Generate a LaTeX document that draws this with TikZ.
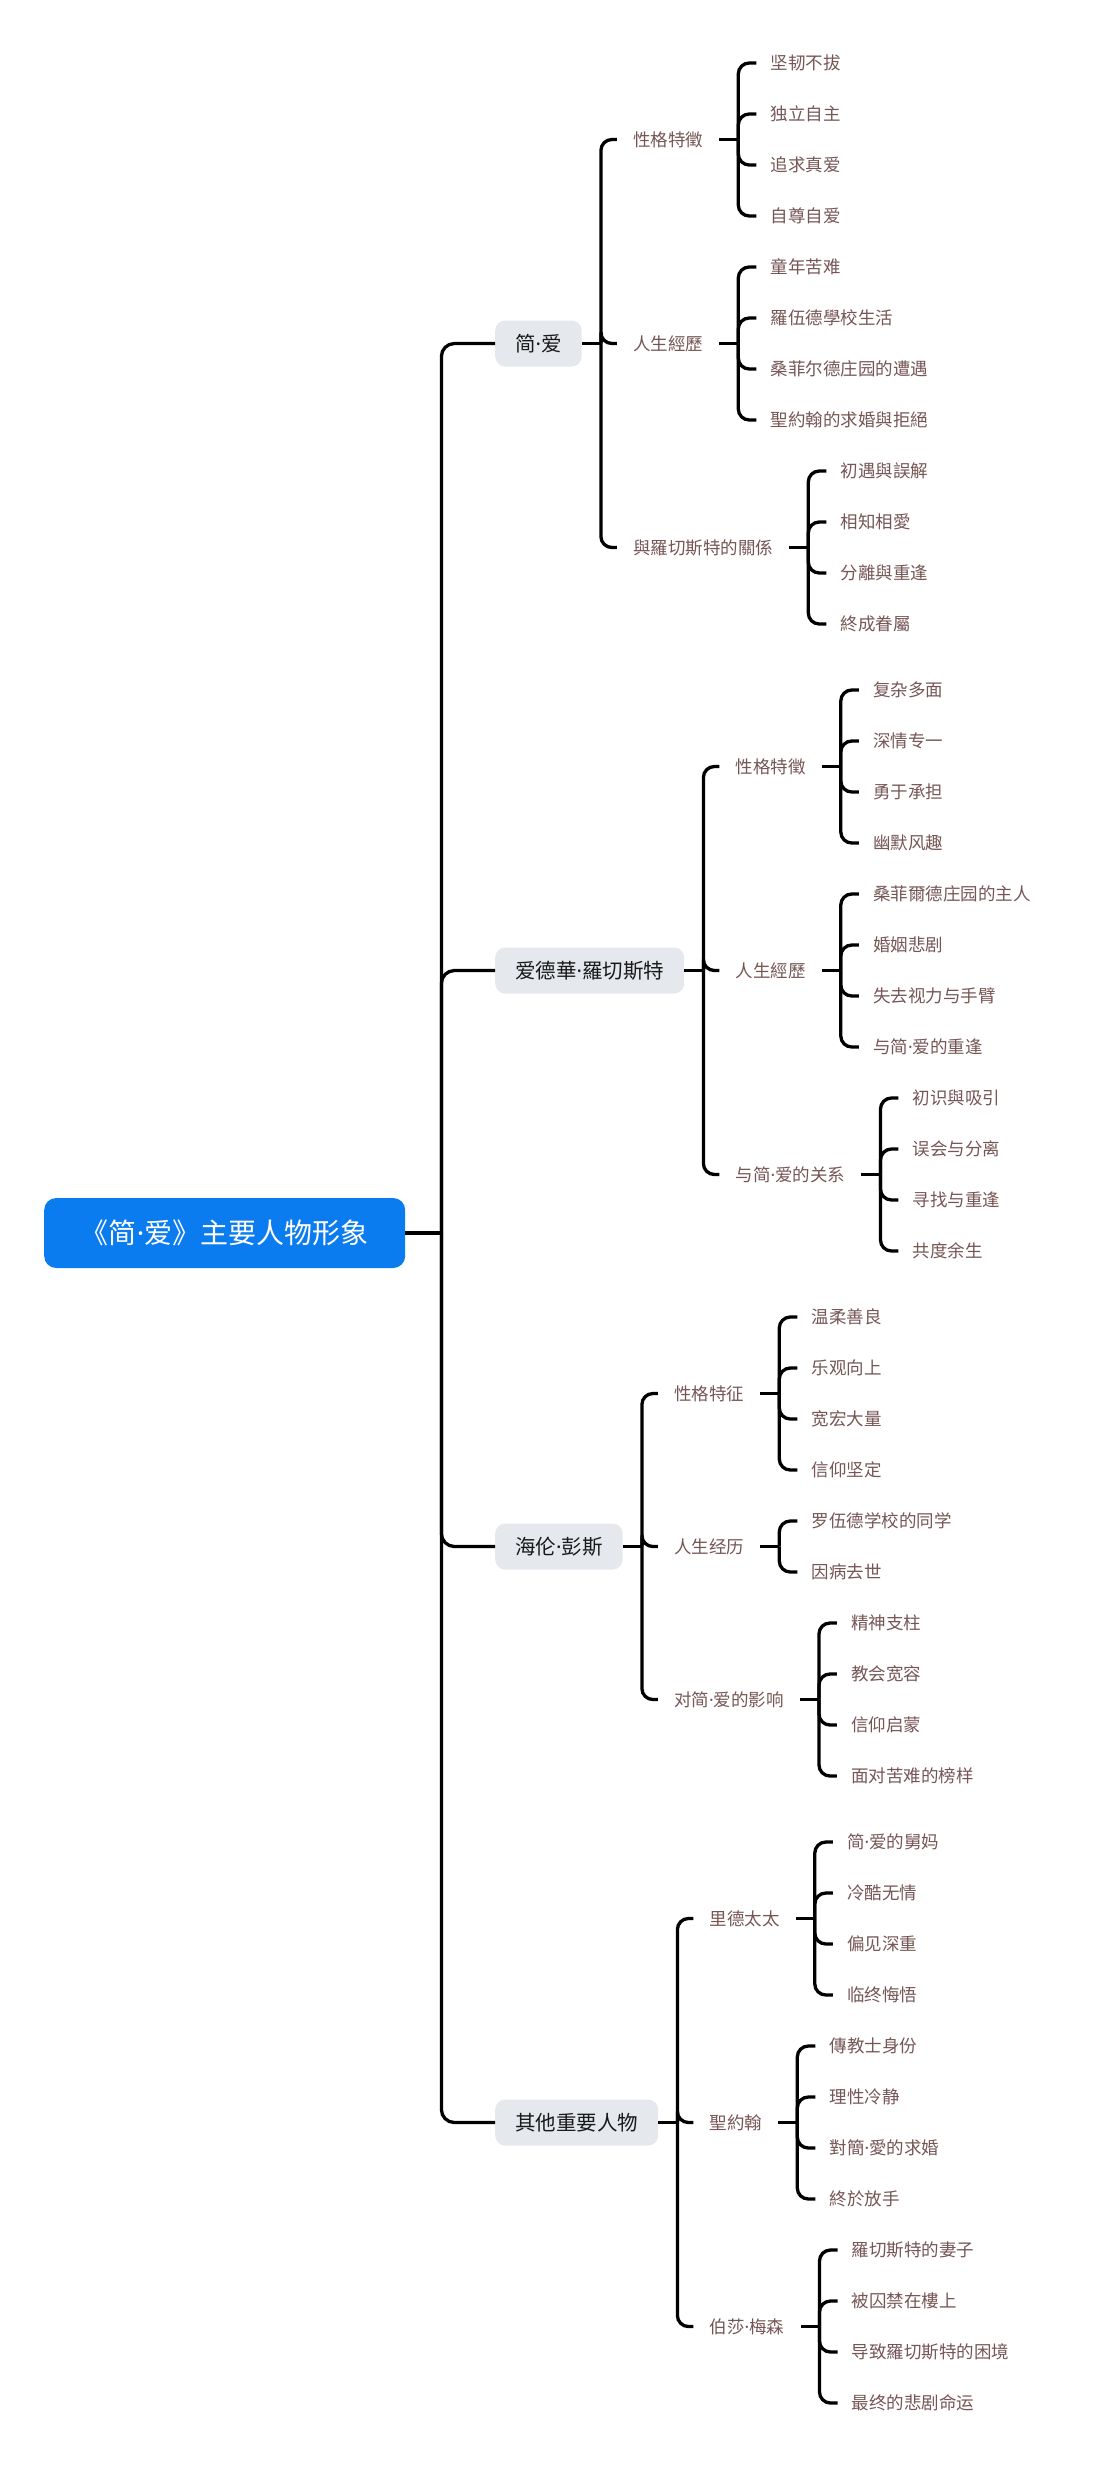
\documentclass[tikz,border=0pt]{standalone}
\usepackage{fontspec}
\usetikzlibrary{calc}
\setmainfont{Noto Sans CJK SC}
\newfontfamily\dotfont{Noto Sans}
\newcommand{\jdot}{{\dotfont ·}}
\definecolor{rootblue}{RGB}{11,124,240}
\definecolor{topicgray}{RGB}{229,233,238}
\definecolor{leafbrown}{RGB}{117,86,84}

\begin{document}
\begin{tikzpicture}[x=1pt, y=-1pt,
    rootbox/.style={fill=rootblue, text=white, rounded corners=12pt, anchor=west, minimum height=70pt, minimum width=361pt, font=\fontsize{28}{32}\selectfont},
    topicbox/.style={fill=topicgray, text=black!90, rounded corners=10pt, anchor=west, minimum height=46pt, inner xsep=20pt, font=\fontsize{20.5}{24}\selectfont},
    subnode/.style={text=leafbrown, anchor=west, inner xsep=16pt, font=\fontsize{17.5}{20}\selectfont},
    leafnode/.style={subnode, inner xsep=14pt},
    branchline/.style={line width=3.3pt, rounded corners=11pt}
  ]
  \useasboundingbox (0,0) rectangle (1100,2481);

  % root
  \node[rootbox] (root) at (44,1233) {《简\jdot 爱》主要人物形象};
  \coordinate (root-t) at ($(root.east)+(36,0)$);
  \draw[branchline] (root.east) -- (root-t);

  % main characters
  \foreach \n/\y/\t in {jane/343.5/简\jdot 爱, roch/970.5/爱德華\jdot 羅切斯特, helen/1546.5/海伦\jdot 彭斯, other/2122.5/其他重要人物} {
    \node[topicbox] (\n) at (495,\y) {\t};
    \draw[branchline, rounded corners=13pt] (root-t) |- (\n.west);
    \coordinate (\n-t) at ($(\n.east)+(19,0)$);
    \draw[branchline] (\n.east) -- (\n-t);
  }

  % aspects
  \foreach \p/\n/\dy/\t in {jane/j1/-204/性格特徵, jane/j2/0/人生經歷, jane/j3/204/與羅切斯特的關係,
      roch/r1/-204/性格特徵, roch/r2/0/人生經歷, roch/r3/204/与简\jdot 爱的关系,
      helen/h1/-153/性格特征, helen/h2/0/人生经历, helen/h3/153/对简\jdot 爱的影响,
      other/o1/-204/里德太太, other/o2/0/聖約翰, other/o3/204/伯莎\jdot 梅森} {
    \node[subnode] (\n) at ($(\p.east)+(35,\dy)$) {\t};
    \draw[branchline] (\p-t) |- (\n.west);
    \coordinate (\n-t) at ($(\n.east)+(19,0)$);
    \draw[branchline] (\n.east) -- (\n-t);
  }

  % details
  \foreach \n/\s/\items in {
      j1/-1.5/{坚韧不拔,独立自主,追求真爱,自尊自爱},
      j2/-1.5/{童年苦难,羅伍德學校生活,桑菲尔德庄园的遭遇,聖約翰的求婚與拒絕},
      j3/-1.5/{初遇與誤解,相知相愛,分離與重逢,終成眷屬},
      r1/-1.5/{复杂多面,深情专一,勇于承担,幽默风趣},
      r2/-1.5/{桑菲爾德庄园的主人,婚姻悲剧,失去视力与手臂,与简\jdot 爱的重逢},
      r3/-1.5/{初识與吸引,误会与分离,寻找与重逢,共度余生},
      h1/-1.5/{温柔善良,乐观向上,宽宏大量,信仰坚定},
      h2/-0.5/{罗伍德学校的同学,因病去世},
      h3/-1.5/{精神支柱,教会宽容,信仰启蒙,面对苦难的榜样},
      o1/-1.5/{简\jdot 爱的舅妈,冷酷无情,偏见深重,临终悔悟},
      o2/-1.5/{傳教士身份,理性冷静,對簡\jdot 愛的求婚,終於放手},
      o3/-1.5/{羅切斯特的妻子,被囚禁在樓上,导致羅切斯特的困境,最终的悲剧命运}} {
    \foreach \t [count=\i] in \items {
      \node[leafnode] (\n-\i) at ($(\n.east)+(37,{(\i-1+\s)*51})$) {\t};
      \draw[branchline] (\n-t) |- (\n-\i.west);
    }
  }
\end{tikzpicture}
\end{document}
